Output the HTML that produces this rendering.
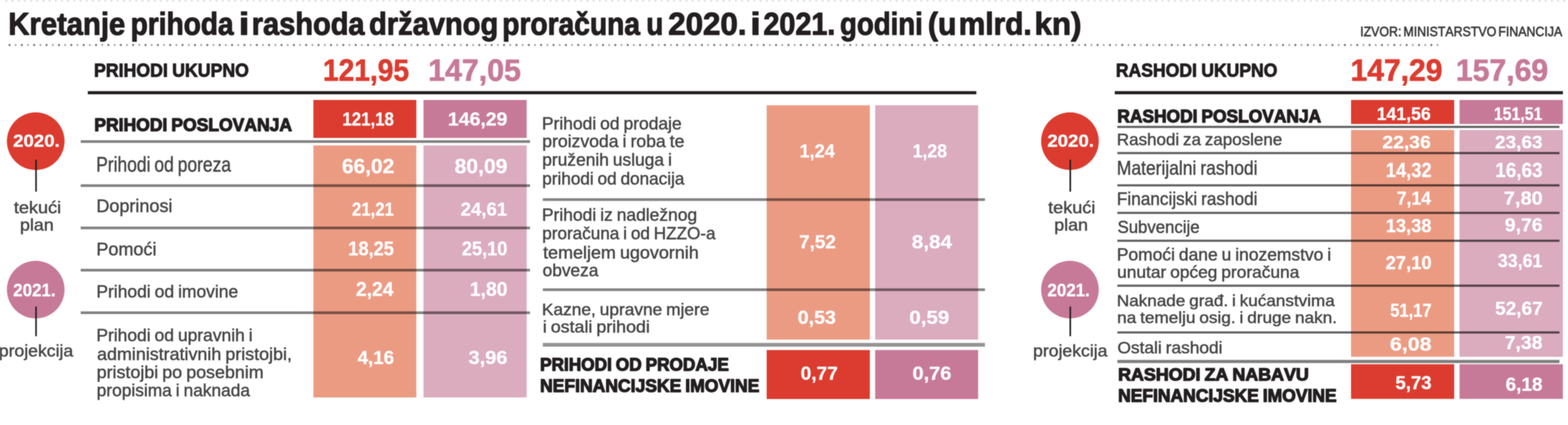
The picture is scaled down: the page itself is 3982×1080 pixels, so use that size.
<!DOCTYPE html>
<html lang="hr">
<head>
<meta charset="utf-8">
<title>Kretanje prihoda i rashoda državnog proračuna u 2020. i 2021. godini</title>
<style>
html,body{margin:0;padding:0;background:#fff;}
body{width:3982px;height:1080px;overflow:hidden;}
svg{display:block;}
svg .shapes{filter:blur(0.8px);}
svg .labels{filter:blur(1.1px);}
svg text{font-family:"Liberation Sans",Arial,Helvetica,sans-serif;font-kerning:none;white-space:pre;}
</style>
</head>
<body>
<svg width="3982" height="1080" viewBox="0 0 3982 1080">
<rect x="0" y="0" width="3982" height="1080" fill="#ffffff"/>
<g class="shapes">
<line x1="14" y1="2.2" x2="3982" y2="2.2" stroke="#d4d4d4" stroke-width="3.6" stroke-dasharray="4.4 11.3"/>
<line x1="21.9" y1="114.3" x2="3656" y2="114.3" stroke="#686868" stroke-width="4.8" stroke-dasharray="4.4 27"/>
<line x1="37.6" y1="114.3" x2="3656" y2="114.3" stroke="#a4a4a4" stroke-width="4.8" stroke-dasharray="4.4 27"/>
<rect x="223.0" y="231.60" width="2256.4" height="8.00" fill="#231f20" opacity="1.00"/>
<rect x="2831.0" y="231.60" width="1138.0" height="8.00" fill="#231f20" opacity="1.00"/>
<rect x="795.8" y="254.0" width="261.5" height="96.5" fill="#dc3c30"/>
<rect x="1075.4" y="254.0" width="262.1" height="96.5" fill="#c77a98"/>
<rect x="795.8" y="369.5" width="261.5" height="640.5" fill="#ec9b83"/>
<rect x="1075.4" y="369.5" width="262.1" height="640.5" fill="#dbabbe"/>
<rect x="1947.0" y="267.5" width="262.0" height="595.5" fill="#ec9b83"/>
<rect x="2222.5" y="267.5" width="261.5" height="595.5" fill="#dbabbe"/>
<rect x="1947.0" y="889.5" width="262.0" height="124.5" fill="#dc3c30"/>
<rect x="2222.5" y="889.5" width="261.5" height="124.5" fill="#c77a98"/>
<rect x="3431.0" y="254.0" width="262.0" height="61.0" fill="#dc3c30"/>
<rect x="3706.5" y="254.0" width="262.5" height="61.0" fill="#c77a98"/>
<rect x="3431.0" y="330.4" width="262.0" height="576.2" fill="#ec9b83"/>
<rect x="3706.5" y="330.4" width="262.5" height="576.2" fill="#dbabbe"/>
<rect x="3431.0" y="925.5" width="262.0" height="88.1" fill="#dc3c30"/>
<rect x="3706.5" y="925.5" width="262.5" height="88.1" fill="#c77a98"/>
<rect x="205.0" y="356.30" width="1141.0" height="6.80" fill="#000" opacity="0.49"/>
<rect x="205.0" y="468.30" width="1141.0" height="6.80" fill="#000" opacity="0.49"/>
<rect x="205.0" y="575.80" width="1141.0" height="6.80" fill="#000" opacity="0.49"/>
<rect x="205.0" y="683.10" width="1141.0" height="6.80" fill="#000" opacity="0.49"/>
<rect x="205.0" y="791.30" width="1141.0" height="6.80" fill="#000" opacity="0.49"/>
<rect x="1378.5" y="503.80" width="1122.9" height="6.80" fill="#000" opacity="0.49"/>
<rect x="1378.5" y="732.80" width="1122.9" height="6.80" fill="#000" opacity="0.49"/>
<rect x="1378.5" y="871.45" width="1122.9" height="9.50" fill="#000" opacity="0.42"/>
<rect x="2837.5" y="319.75" width="1122.8" height="5.50" fill="#000" opacity="0.62"/>
<rect x="2837.5" y="386.25" width="1122.8" height="5.50" fill="#000" opacity="0.62"/>
<rect x="2837.5" y="468.25" width="1122.8" height="5.50" fill="#000" opacity="0.62"/>
<rect x="2837.5" y="538.25" width="1122.8" height="5.50" fill="#000" opacity="0.62"/>
<rect x="2837.5" y="609.05" width="1122.8" height="5.50" fill="#000" opacity="0.62"/>
<rect x="2837.5" y="723.25" width="1122.8" height="5.50" fill="#000" opacity="0.62"/>
<rect x="2837.5" y="842.05" width="1122.8" height="5.50" fill="#000" opacity="0.62"/>
<rect x="2837.5" y="914.60" width="1122.8" height="8.00" fill="#000" opacity="0.50"/>
<circle cx="90.7" cy="358.8" r="73.2" fill="#dc3c30"/>
<circle cx="90.7" cy="736" r="73.2" fill="#c77a98"/>
<rect x="89.5" y="405.7" width="4.0" height="81.3" fill="#231f20"/>
<rect x="89.5" y="779.0" width="4.0" height="75.4" fill="#231f20"/>
<circle cx="2717.2" cy="358.8" r="73.2" fill="#dc3c30"/>
<circle cx="2717.2" cy="736" r="73.2" fill="#c77a98"/>
<rect x="2716.0" y="405.7" width="4.0" height="81.3" fill="#231f20"/>
<rect x="2716.0" y="779.0" width="4.0" height="75.4" fill="#231f20"/>
</g>
<g class="labels">
<text y="88.46" font-size="80.41" font-weight="700" fill="#231f20" stroke="#231f20" stroke-width="2.40" stroke-linejoin="round"><tspan x="21.24" textLength="296.80" lengthAdjust="spacingAndGlyphs">Kretanje</tspan> <tspan x="331.80" textLength="261.35" lengthAdjust="spacingAndGlyphs">prihoda</tspan> <tspan x="606.48" textLength="26.73" lengthAdjust="spacingAndGlyphs">i</tspan> <tspan x="639.35" textLength="286.49" lengthAdjust="spacingAndGlyphs">rashoda</tspan> <tspan x="937.17" textLength="328.17" lengthAdjust="spacingAndGlyphs">državnog</tspan> <tspan x="1275.48" textLength="349.86" lengthAdjust="spacingAndGlyphs">proračuna</tspan> <tspan x="1641.21" textLength="43.26" lengthAdjust="spacingAndGlyphs">u</tspan> <tspan x="1696.94" textLength="198.93" lengthAdjust="spacingAndGlyphs">2020.</tspan> <tspan x="1905.58" textLength="26.32" lengthAdjust="spacingAndGlyphs">i</tspan> <tspan x="1938.67" textLength="182.76" lengthAdjust="spacingAndGlyphs">2021.</tspan> <tspan x="2133.33" textLength="210.13" lengthAdjust="spacingAndGlyphs">godini</tspan> <tspan x="2356.38" textLength="72.49" lengthAdjust="spacingAndGlyphs">(u</tspan> <tspan x="2434.81" textLength="185.21" lengthAdjust="spacingAndGlyphs">mlrd.</tspan> <tspan x="2627.35" textLength="119.21" lengthAdjust="spacingAndGlyphs">kn)</tspan></text>
<text transform="translate(3454.16 92.11) scale(0.8792 1)" font-size="35.79" font-weight="400" fill="#3c3c3c" textLength="583.90" lengthAdjust="spacingAndGlyphs" style="word-spacing:-4.29px" stroke="#3c3c3c" stroke-width="1.40" stroke-linejoin="round">IZVOR: MINISTARSTVO FINANCIJA</text>
<text transform="translate(238.79 195.30) scale(0.9205 1)" font-size="48.84" font-weight="700" fill="#231f20" textLength="427.25" lengthAdjust="spacingAndGlyphs" style="word-spacing:-1.47px" stroke="#231f20" stroke-width="2.00" stroke-linejoin="round">PRIHODI UKUPNO</text>
<text transform="translate(820.14 204.74) scale(0.9080 1)" font-size="78.75" font-weight="700" fill="#dc3c30" textLength="240.87" lengthAdjust="spacingAndGlyphs" style="word-spacing:-2.36px" stroke="#dc3c30" stroke-width="1.60" stroke-linejoin="round">121,95</text>
<text transform="translate(1087.39 204.74) scale(0.9778 1)" font-size="78.75" font-weight="700" fill="#c77a98" textLength="240.87" lengthAdjust="spacingAndGlyphs" style="word-spacing:-2.36px" stroke="#c77a98" stroke-width="1.60" stroke-linejoin="round">147,05</text>
<text transform="translate(2833.81 195.30) scale(0.9138 1)" font-size="48.84" font-weight="700" fill="#231f20" textLength="448.95" lengthAdjust="spacingAndGlyphs" style="word-spacing:-1.47px" stroke="#231f20" stroke-width="2.00" stroke-linejoin="round">RASHODI UKUPNO</text>
<text transform="translate(3429.83 204.74) scale(0.9688 1)" font-size="78.75" font-weight="700" fill="#dc3c30" textLength="240.87" lengthAdjust="spacingAndGlyphs" style="word-spacing:-2.36px" stroke="#dc3c30" stroke-width="1.60" stroke-linejoin="round">147,29</text>
<text transform="translate(3697.32 204.74) scale(0.9727 1)" font-size="78.75" font-weight="700" fill="#c77a98" textLength="240.87" lengthAdjust="spacingAndGlyphs" style="word-spacing:-2.36px" stroke="#c77a98" stroke-width="1.60" stroke-linejoin="round">157,69</text>
<text transform="translate(239.46 332.59) scale(0.9516 1)" font-size="46.77" font-weight="700" fill="#231f20" textLength="527.84" lengthAdjust="spacingAndGlyphs" style="word-spacing:-2.34px" stroke="#231f20" stroke-width="2.60" stroke-linejoin="round">PRIHODI POSLOVANJA</text>
<text transform="translate(869.59 319.36) scale(0.8882 1)" font-size="48.13" font-weight="700" fill="#ffffff" textLength="147.20" lengthAdjust="spacingAndGlyphs" style="word-spacing:-1.44px" stroke="#ffffff" stroke-width="0.70" stroke-linejoin="round">121,18</text>
<text transform="translate(1137.47 319.36) scale(1.0264 1)" font-size="48.13" font-weight="700" fill="#ffffff" textLength="147.20" lengthAdjust="spacingAndGlyphs" style="word-spacing:-1.44px" stroke="#ffffff" stroke-width="0.70" stroke-linejoin="round">146,29</text>
<text transform="translate(244.27 436.15) scale(0.8160 1)" font-size="54.22" font-weight="400" fill="#474749" textLength="419.54" lengthAdjust="spacingAndGlyphs" style="word-spacing:-2.71px" stroke="#474749" stroke-width="1.00" stroke-linejoin="round">Prihodi od poreza</text>
<text transform="translate(868.34 440.25) scale(1.0140 1)" font-size="52.34" font-weight="700" fill="#ffffff" textLength="130.98" lengthAdjust="spacingAndGlyphs" style="word-spacing:-1.57px" stroke="#ffffff" stroke-width="0.70" stroke-linejoin="round">66,02</text>
<text transform="translate(1154.38 440.25) scale(1.0256 1)" font-size="52.34" font-weight="700" fill="#ffffff" textLength="130.98" lengthAdjust="spacingAndGlyphs" style="word-spacing:-1.57px" stroke="#ffffff" stroke-width="0.70" stroke-linejoin="round">80,09</text>
<text transform="translate(244.65 538.85) scale(0.9749 1)" font-size="46.95" font-weight="400" fill="#474749" textLength="198.32" lengthAdjust="spacingAndGlyphs" style="word-spacing:-2.35px" stroke="#474749" stroke-width="1.00" stroke-linejoin="round">Doprinosi</text>
<text transform="translate(893.81 547.75) scale(0.8729 1)" font-size="48.71" font-weight="700" fill="#ffffff" textLength="121.89" lengthAdjust="spacingAndGlyphs" style="word-spacing:-1.46px" stroke="#ffffff" stroke-width="0.70" stroke-linejoin="round">21,21</text>
<text transform="translate(1169.64 547.75) scale(0.9714 1)" font-size="48.71" font-weight="700" fill="#ffffff" textLength="121.89" lengthAdjust="spacingAndGlyphs" style="word-spacing:-1.46px" stroke="#ffffff" stroke-width="0.70" stroke-linejoin="round">24,61</text>
<text transform="translate(244.64 648.95) scale(1.0069 1)" font-size="45.49" font-weight="400" fill="#474749" textLength="151.70" lengthAdjust="spacingAndGlyphs" style="word-spacing:-2.27px" stroke="#474749" stroke-width="1.00" stroke-linejoin="round">Pomoći</text>
<text transform="translate(884.36 649.05) scale(0.9373 1)" font-size="49.43" font-weight="700" fill="#ffffff" textLength="123.71" lengthAdjust="spacingAndGlyphs" style="word-spacing:-1.48px" stroke="#ffffff" stroke-width="0.70" stroke-linejoin="round">18,25</text>
<text transform="translate(1172.67 649.05) scale(0.9373 1)" font-size="49.43" font-weight="700" fill="#ffffff" textLength="123.71" lengthAdjust="spacingAndGlyphs" style="word-spacing:-1.48px" stroke="#ffffff" stroke-width="0.70" stroke-linejoin="round">25,10</text>
<text transform="translate(244.77 755.55) scale(0.9834 1)" font-size="45.06" font-weight="400" fill="#474749" textLength="366.17" lengthAdjust="spacingAndGlyphs" style="word-spacing:-2.25px" stroke="#474749" stroke-width="1.00" stroke-linejoin="round">Prihodi od imovine</text>
<text transform="translate(904.08 751.75) scale(0.9751 1)" font-size="50.16" font-weight="700" fill="#ffffff" textLength="97.63" lengthAdjust="spacingAndGlyphs" style="word-spacing:-1.50px" stroke="#ffffff" stroke-width="0.70" stroke-linejoin="round">2,24</text>
<text transform="translate(1193.19 751.75) scale(0.9787 1)" font-size="50.16" font-weight="700" fill="#ffffff" textLength="97.63" lengthAdjust="spacingAndGlyphs" style="word-spacing:-1.50px" stroke="#ffffff" stroke-width="0.70" stroke-linejoin="round">1,80</text>
<text transform="translate(244.77 866.85) scale(1.0048 1)" font-size="44.04" font-weight="400" fill="#474749" textLength="394.91" lengthAdjust="spacingAndGlyphs" style="word-spacing:-2.20px" stroke="#474749" stroke-width="1.00" stroke-linejoin="round">Prihodi od upravnih i</text>
<text transform="translate(246.47 914.65) scale(1.0311 1)" font-size="44.04" font-weight="400" fill="#474749" textLength="480.00" lengthAdjust="spacingAndGlyphs" style="word-spacing:-2.20px" stroke="#474749" stroke-width="1.00" stroke-linejoin="round">administrativnih pristojbi,</text>
<text transform="translate(245.48 961.05) scale(1.0300 1)" font-size="44.04" font-weight="400" fill="#474749" textLength="411.77" lengthAdjust="spacingAndGlyphs" style="word-spacing:-2.20px" stroke="#474749" stroke-width="1.00" stroke-linejoin="round">pristojbi po posebnim</text>
<text transform="translate(245.56 1007.45) scale(0.9992 1)" font-size="44.04" font-weight="400" fill="#474749" textLength="389.75" lengthAdjust="spacingAndGlyphs" style="word-spacing:-2.20px" stroke="#474749" stroke-width="1.00" stroke-linejoin="round">propisima i naknada</text>
<text transform="translate(908.16 924.75) scale(0.9766 1)" font-size="48.71" font-weight="700" fill="#ffffff" textLength="94.80" lengthAdjust="spacingAndGlyphs" style="word-spacing:-1.46px" stroke="#ffffff" stroke-width="0.70" stroke-linejoin="round">4,16</text>
<text transform="translate(1190.12 924.75) scale(1.0383 1)" font-size="48.71" font-weight="700" fill="#ffffff" textLength="94.80" lengthAdjust="spacingAndGlyphs" style="word-spacing:-1.46px" stroke="#ffffff" stroke-width="0.70" stroke-linejoin="round">3,96</text>
<text transform="translate(1376.27 329.15) scale(1.0049 1)" font-size="44.04" font-weight="400" fill="#474749" textLength="353.07" lengthAdjust="spacingAndGlyphs" style="word-spacing:-2.20px" stroke="#474749" stroke-width="1.00" stroke-linejoin="round">Prihodi od prodaje</text>
<text transform="translate(1377.02 373.95) scale(1.0150 1)" font-size="44.04" font-weight="400" fill="#474749" textLength="355.73" lengthAdjust="spacingAndGlyphs" style="word-spacing:-2.20px" stroke="#474749" stroke-width="1.00" stroke-linejoin="round">proizvoda i roba te</text>
<text transform="translate(1377.06 421.45) scale(1.0017 1)" font-size="44.04" font-weight="400" fill="#474749" textLength="328.57" lengthAdjust="spacingAndGlyphs" style="word-spacing:-2.20px" stroke="#474749" stroke-width="1.00" stroke-linejoin="round">pruženih usluga i</text>
<text transform="translate(1377.10 469.45) scale(0.9879 1)" font-size="44.04" font-weight="400" fill="#474749" textLength="365.32" lengthAdjust="spacingAndGlyphs" style="word-spacing:-2.20px" stroke="#474749" stroke-width="1.00" stroke-linejoin="round">prihodi od donacija</text>
<text transform="translate(2030.38 399.75) scale(0.9450 1)" font-size="48.71" font-weight="700" fill="#ffffff" textLength="94.80" lengthAdjust="spacingAndGlyphs" style="word-spacing:-1.46px" stroke="#ffffff" stroke-width="0.70" stroke-linejoin="round">1,24</text>
<text transform="translate(2317.44 399.75) scale(0.9247 1)" font-size="48.71" font-weight="700" fill="#ffffff" textLength="94.80" lengthAdjust="spacingAndGlyphs" style="word-spacing:-1.46px" stroke="#ffffff" stroke-width="0.70" stroke-linejoin="round">1,28</text>
<text transform="translate(1376.27 560.85) scale(1.0050 1)" font-size="44.04" font-weight="400" fill="#474749" textLength="392.23" lengthAdjust="spacingAndGlyphs" style="word-spacing:-2.20px" stroke="#474749" stroke-width="1.00" stroke-linejoin="round">Prihodi iz nadležnog</text>
<text transform="translate(1377.10 608.35) scale(0.9863 1)" font-size="44.04" font-weight="400" fill="#474749" textLength="446.22" lengthAdjust="spacingAndGlyphs" style="word-spacing:-2.20px" stroke="#474749" stroke-width="1.00" stroke-linejoin="round">proračuna i od HZZO-a</text>
<text transform="translate(1379.21 656.65) scale(1.0346 1)" font-size="44.04" font-weight="400" fill="#474749" textLength="382.13" lengthAdjust="spacingAndGlyphs" style="word-spacing:-2.20px" stroke="#474749" stroke-width="1.00" stroke-linejoin="round">temeljem ugovornih</text>
<text transform="translate(1378.06 702.25) scale(0.9967 1)" font-size="44.04" font-weight="400" fill="#474749" textLength="142.02" lengthAdjust="spacingAndGlyphs" style="word-spacing:-2.20px" stroke="#474749" stroke-width="1.00" stroke-linejoin="round">obveza</text>
<text transform="translate(2029.22 630.75) scale(0.9855 1)" font-size="48.71" font-weight="700" fill="#ffffff" textLength="94.80" lengthAdjust="spacingAndGlyphs" style="word-spacing:-1.46px" stroke="#ffffff" stroke-width="0.70" stroke-linejoin="round">7,52</text>
<text transform="translate(2315.62 630.75) scale(1.0758 1)" font-size="48.71" font-weight="700" fill="#ffffff" textLength="94.80" lengthAdjust="spacingAndGlyphs" style="word-spacing:-1.46px" stroke="#ffffff" stroke-width="0.70" stroke-linejoin="round">8,84</text>
<text transform="translate(1376.30 800.65) scale(1.0312 1)" font-size="42.59" font-weight="400" fill="#474749" textLength="412.39" lengthAdjust="spacingAndGlyphs" style="word-spacing:-2.13px" stroke="#474749" stroke-width="1.00" stroke-linejoin="round">Kazne, upravne mjere</text>
<text transform="translate(1378.38 844.65) scale(1.0614 1)" font-size="42.59" font-weight="400" fill="#474749" textLength="256.13" lengthAdjust="spacingAndGlyphs" style="word-spacing:-2.13px" stroke="#474749" stroke-width="1.00" stroke-linejoin="round">i ostali prihodi</text>
<text transform="translate(2025.81 823.36) scale(1.0234 1)" font-size="48.71" font-weight="700" fill="#ffffff" textLength="94.80" lengthAdjust="spacingAndGlyphs" style="word-spacing:-1.46px" stroke="#ffffff" stroke-width="0.70" stroke-linejoin="round">0,53</text>
<text transform="translate(2309.22 823.36) scale(1.0700 1)" font-size="48.71" font-weight="700" fill="#ffffff" textLength="94.80" lengthAdjust="spacingAndGlyphs" style="word-spacing:-1.46px" stroke="#ffffff" stroke-width="0.70" stroke-linejoin="round">0,59</text>
<text transform="translate(1371.51 942.09) scale(0.9657 1)" font-size="45.32" font-weight="700" fill="#231f20" textLength="496.58" lengthAdjust="spacingAndGlyphs" style="word-spacing:-2.27px" stroke="#231f20" stroke-width="2.60" stroke-linejoin="round">PRIHODI OD PRODAJE</text>
<text transform="translate(1371.46 996.09) scale(0.9520 1)" font-size="46.77" font-weight="700" fill="#231f20" textLength="585.01" lengthAdjust="spacingAndGlyphs" style="word-spacing:-2.34px" stroke="#231f20" stroke-width="2.60" stroke-linejoin="round">NEFINANCIJSKE IMOVINE</text>
<text transform="translate(2033.36 965.46) scale(0.9968 1)" font-size="48.71" font-weight="700" fill="#ffffff" textLength="94.80" lengthAdjust="spacingAndGlyphs" style="word-spacing:-1.46px" stroke="#ffffff" stroke-width="0.70" stroke-linejoin="round">0,77</text>
<text transform="translate(2317.27 965.46) scale(1.0420 1)" font-size="48.71" font-weight="700" fill="#ffffff" textLength="94.80" lengthAdjust="spacingAndGlyphs" style="word-spacing:-1.46px" stroke="#ffffff" stroke-width="0.70" stroke-linejoin="round">0,76</text>
<text transform="translate(2837.59 310.99) scale(0.9552 1)" font-size="46.19" font-weight="700" fill="#231f20" textLength="541.81" lengthAdjust="spacingAndGlyphs" style="word-spacing:-2.31px" stroke="#231f20" stroke-width="2.60" stroke-linejoin="round">RASHODI POSLOVANJA</text>
<text transform="translate(3496.15 305.06) scale(0.9793 1)" font-size="45.80" font-weight="700" fill="#ffffff" textLength="140.08" lengthAdjust="spacingAndGlyphs" style="word-spacing:-1.37px" stroke="#ffffff" stroke-width="0.70" stroke-linejoin="round">141,56</text>
<text transform="translate(3793.74 305.06) scale(0.8787 1)" font-size="45.80" font-weight="700" fill="#ffffff" textLength="140.08" lengthAdjust="spacingAndGlyphs" style="word-spacing:-1.37px" stroke="#ffffff" stroke-width="0.70" stroke-linejoin="round">151,51</text>
<text transform="translate(2836.36 368.65) scale(1.0122 1)" font-size="42.59" font-weight="400" fill="#474749" textLength="414.80" lengthAdjust="spacingAndGlyphs" style="word-spacing:-2.13px" stroke="#474749" stroke-width="1.00" stroke-linejoin="round">Rashodi za zaposlene</text>
<text transform="translate(3510.58 376.56) scale(1.0459 1)" font-size="46.96" font-weight="700" fill="#ffffff" textLength="117.52" lengthAdjust="spacingAndGlyphs" style="word-spacing:-1.41px" stroke="#ffffff" stroke-width="0.70" stroke-linejoin="round">22,36</text>
<text transform="translate(3796.61 376.56) scale(1.0284 1)" font-size="46.96" font-weight="700" fill="#ffffff" textLength="117.52" lengthAdjust="spacingAndGlyphs" style="word-spacing:-1.41px" stroke="#ffffff" stroke-width="0.70" stroke-linejoin="round">23,63</text>
<text transform="translate(2836.27 444.05) scale(0.8939 1)" font-size="49.56" font-weight="400" fill="#474749" textLength="399.73" lengthAdjust="spacingAndGlyphs" style="word-spacing:-2.48px" stroke="#474749" stroke-width="1.00" stroke-linejoin="round">Materijalni rashodi</text>
<text transform="translate(3519.35 449.75) scale(0.8873 1)" font-size="52.34" font-weight="700" fill="#ffffff" textLength="130.98" lengthAdjust="spacingAndGlyphs" style="word-spacing:-1.57px" stroke="#ffffff" stroke-width="0.70" stroke-linejoin="round">14,32</text>
<text transform="translate(3797.25 449.75) scale(0.9177 1)" font-size="52.34" font-weight="700" fill="#ffffff" textLength="130.98" lengthAdjust="spacingAndGlyphs" style="word-spacing:-1.57px" stroke="#ffffff" stroke-width="0.70" stroke-linejoin="round">16,63</text>
<text transform="translate(2836.32 520.65) scale(0.9604 1)" font-size="45.49" font-weight="400" fill="#474749" textLength="371.95" lengthAdjust="spacingAndGlyphs" style="word-spacing:-2.27px" stroke="#474749" stroke-width="1.00" stroke-linejoin="round">Financijski rashodi</text>
<text transform="translate(3547.37 519.75) scale(0.9217 1)" font-size="48.27" font-weight="700" fill="#ffffff" textLength="93.95" lengthAdjust="spacingAndGlyphs" style="word-spacing:-1.45px" stroke="#ffffff" stroke-width="0.70" stroke-linejoin="round">7,14</text>
<text transform="translate(3819.10 519.75) scale(1.0506 1)" font-size="48.27" font-weight="700" fill="#ffffff" textLength="93.95" lengthAdjust="spacingAndGlyphs" style="word-spacing:-1.45px" stroke="#ffffff" stroke-width="0.70" stroke-linejoin="round">7,80</text>
<text transform="translate(2837.96 591.65) scale(0.9491 1)" font-size="44.91" font-weight="400" fill="#474749" textLength="219.72" lengthAdjust="spacingAndGlyphs" style="word-spacing:-2.25px" stroke="#474749" stroke-width="1.00" stroke-linejoin="round">Subvencije</text>
<text transform="translate(3519.37 589.75) scale(0.9672 1)" font-size="47.84" font-weight="700" fill="#ffffff" textLength="119.70" lengthAdjust="spacingAndGlyphs" style="word-spacing:-1.44px" stroke="#ffffff" stroke-width="0.70" stroke-linejoin="round">13,38</text>
<text transform="translate(3821.57 587.75) scale(1.0304 1)" font-size="47.84" font-weight="700" fill="#ffffff" textLength="93.10" lengthAdjust="spacingAndGlyphs" style="word-spacing:-1.44px" stroke="#ffffff" stroke-width="0.70" stroke-linejoin="round">9,76</text>
<text transform="translate(2837.82 898.15) scale(1.0156 1)" font-size="43.31" font-weight="400" fill="#474749" textLength="262.65" lengthAdjust="spacingAndGlyphs" style="word-spacing:-2.17px" stroke="#474749" stroke-width="1.00" stroke-linejoin="round">Ostali rashodi</text>
<text transform="translate(3529.79 890.75) scale(1.1482 1)" font-size="47.25" font-weight="700" fill="#ffffff" textLength="91.97" lengthAdjust="spacingAndGlyphs" style="word-spacing:-1.42px" stroke="#ffffff" stroke-width="0.70" stroke-linejoin="round">6,08</text>
<text transform="translate(3821.16 886.75) scale(1.0447 1)" font-size="47.25" font-weight="700" fill="#ffffff" textLength="91.97" lengthAdjust="spacingAndGlyphs" style="word-spacing:-1.42px" stroke="#ffffff" stroke-width="0.70" stroke-linejoin="round">7,38</text>
<text transform="translate(2836.27 662.45) scale(1.0110 1)" font-size="43.75" font-weight="400" fill="#474749" textLength="538.41" lengthAdjust="spacingAndGlyphs" style="word-spacing:-2.19px" stroke="#474749" stroke-width="1.00" stroke-linejoin="round">Pomoći dane u inozemstvo i</text>
<text transform="translate(2837.04 705.65) scale(1.0190 1)" font-size="43.16" font-weight="400" fill="#474749" textLength="453.94" lengthAdjust="spacingAndGlyphs" style="word-spacing:-2.16px" stroke="#474749" stroke-width="1.00" stroke-linejoin="round">unutar općeg proračuna</text>
<text transform="translate(3518.66 683.75) scale(0.9892 1)" font-size="47.25" font-weight="700" fill="#ffffff" textLength="118.25" lengthAdjust="spacingAndGlyphs" style="word-spacing:-1.42px" stroke="#ffffff" stroke-width="0.70" stroke-linejoin="round">27,10</text>
<text transform="translate(3803.84 679.15) scale(0.9282 1)" font-size="48.71" font-weight="700" fill="#ffffff" textLength="121.89" lengthAdjust="spacingAndGlyphs" style="word-spacing:-1.46px" stroke="#ffffff" stroke-width="0.70" stroke-linejoin="round">33,61</text>
<text transform="translate(2836.34 777.95) scale(1.0743 1)" font-size="40.41" font-weight="400" fill="#474749" textLength="515.02" lengthAdjust="spacingAndGlyphs" style="word-spacing:-2.02px" stroke="#474749" stroke-width="1.00" stroke-linejoin="round">Naknade građ. i kućanstvima</text>
<text transform="translate(2837.01 821.15) scale(1.0809 1)" font-size="40.32" font-weight="400" fill="#474749" textLength="516.59" lengthAdjust="spacingAndGlyphs" style="word-spacing:-2.02px" stroke="#474749" stroke-width="1.00" stroke-linejoin="round">na temelju osig. i druge nakn.</text>
<text transform="translate(3530.49 805.05) scale(0.8621 1)" font-size="48.71" font-weight="700" fill="#ffffff" textLength="121.89" lengthAdjust="spacingAndGlyphs" style="word-spacing:-1.46px" stroke="#ffffff" stroke-width="0.70" stroke-linejoin="round">51,17</text>
<text transform="translate(3796.79 800.05) scale(1.0237 1)" font-size="47.25" font-weight="700" fill="#ffffff" textLength="118.25" lengthAdjust="spacingAndGlyphs" style="word-spacing:-1.42px" stroke="#ffffff" stroke-width="0.70" stroke-linejoin="round">52,67</text>
<text transform="translate(2839.41 967.49) scale(1.0340 1)" font-size="43.87" font-weight="700" fill="#231f20" textLength="468.40" lengthAdjust="spacingAndGlyphs" style="word-spacing:-2.19px" stroke="#231f20" stroke-width="2.60" stroke-linejoin="round">RASHODI ZA NABAVU</text>
<text transform="translate(2839.47 1021.49) scale(0.9790 1)" font-size="45.32" font-weight="700" fill="#231f20" textLength="566.83" lengthAdjust="spacingAndGlyphs" style="word-spacing:-2.27px" stroke="#231f20" stroke-width="2.60" stroke-linejoin="round">NEFINANCIJSKE IMOVINE</text>
<text transform="translate(3543.83 989.36) scale(0.9778 1)" font-size="48.13" font-weight="700" fill="#ffffff" textLength="93.67" lengthAdjust="spacingAndGlyphs" style="word-spacing:-1.44px" stroke="#ffffff" stroke-width="0.70" stroke-linejoin="round">5,73</text>
<text transform="translate(3823.52 993.25) scale(1.0186 1)" font-size="47.25" font-weight="700" fill="#ffffff" textLength="91.97" lengthAdjust="spacingAndGlyphs" style="word-spacing:-1.42px" stroke="#ffffff" stroke-width="0.70" stroke-linejoin="round">6,18</text>
<text transform="translate(33.14 373.45) scale(1.0682 1)" font-size="44.35" font-weight="700" fill="#ffffff" textLength="110.97" lengthAdjust="spacingAndGlyphs" style="word-spacing:-1.33px" stroke="#ffffff" stroke-width="0.70" stroke-linejoin="round">2020.</text>
<text transform="translate(33.59 752.55) scale(0.9447 1)" font-size="45.51" font-weight="700" fill="#ffffff" textLength="113.88" lengthAdjust="spacingAndGlyphs" style="word-spacing:-1.37px" stroke="#ffffff" stroke-width="0.70" stroke-linejoin="round">2021.</text>
<text transform="translate(35.20 541.55) scale(1.0653 1)" font-size="43.16" font-weight="400" fill="#474749" textLength="112.74" lengthAdjust="spacingAndGlyphs" style="word-spacing:-2.16px" stroke="#474749" stroke-width="1.00" stroke-linejoin="round">tekući</text>
<text transform="translate(50.78 586.35) scale(1.0512 1)" font-size="43.16" font-weight="400" fill="#474749" textLength="81.59" lengthAdjust="spacingAndGlyphs" style="word-spacing:-2.16px" stroke="#474749" stroke-width="1.00" stroke-linejoin="round">plan</text>
<text transform="translate(-2.98 906.25) scale(1.0361 1)" font-size="43.16" font-weight="400" fill="#474749" textLength="182.29" lengthAdjust="spacingAndGlyphs" style="word-spacing:-2.16px" stroke="#474749" stroke-width="1.00" stroke-linejoin="round">projekcija</text>
<text transform="translate(2659.64 373.45) scale(1.0682 1)" font-size="44.35" font-weight="700" fill="#ffffff" textLength="110.97" lengthAdjust="spacingAndGlyphs" style="word-spacing:-1.33px" stroke="#ffffff" stroke-width="0.70" stroke-linejoin="round">2020.</text>
<text transform="translate(2660.09 752.55) scale(0.9447 1)" font-size="45.51" font-weight="700" fill="#ffffff" textLength="113.88" lengthAdjust="spacingAndGlyphs" style="word-spacing:-1.37px" stroke="#ffffff" stroke-width="0.70" stroke-linejoin="round">2021.</text>
<text transform="translate(2661.70 541.55) scale(1.0653 1)" font-size="43.16" font-weight="400" fill="#474749" textLength="112.74" lengthAdjust="spacingAndGlyphs" style="word-spacing:-2.16px" stroke="#474749" stroke-width="1.00" stroke-linejoin="round">tekući</text>
<text transform="translate(2677.28 586.35) scale(1.0512 1)" font-size="43.16" font-weight="400" fill="#474749" textLength="81.59" lengthAdjust="spacingAndGlyphs" style="word-spacing:-2.16px" stroke="#474749" stroke-width="1.00" stroke-linejoin="round">plan</text>
<text transform="translate(2623.52 906.25) scale(1.0361 1)" font-size="43.16" font-weight="400" fill="#474749" textLength="182.29" lengthAdjust="spacingAndGlyphs" style="word-spacing:-2.16px" stroke="#474749" stroke-width="1.00" stroke-linejoin="round">projekcija</text>
</g>
</svg>
</body>
</html>
